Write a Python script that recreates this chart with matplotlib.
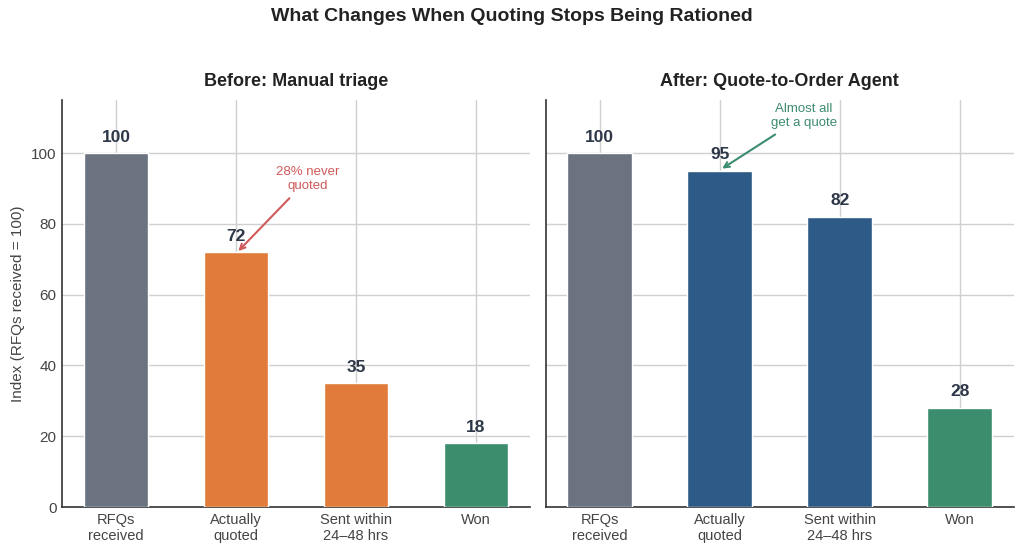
import matplotlib
matplotlib.use('Agg')
import matplotlib.pyplot as plt
import seaborn as sns

# Данные
categories = ['RFQs\nreceived', 'Actually\nquoted', 'Sent within\n24–48 hrs', 'Won']
before_values = [100, 72, 35, 18]
after_values = [100, 95, 82, 28]
before_colors = ['#6b7280', '#e07b39', '#e07b39', '#3c8c6e']
after_colors = ['#6b7280', '#2e5a87', '#2e5a87', '#3c8c6e']

sns.set_theme(style='whitegrid')
plt.rcParams['font.family'] = ['Liberation Sans', 'DejaVu Sans']

fig, axes = plt.subplots(1, 2, figsize=(10.24, 5.52), dpi=100, sharey=True)
fig.subplots_adjust(left=0.0605, right=0.990, top=0.819, bottom=0.0815, wspace=0.034)

panels = [
    (axes[0], before_values, before_colors, 'Before: Manual triage'),
    (axes[1], after_values, after_colors, 'After: Quote-to-Order Agent'),
]

for ax, values, colors, title in panels:
    x = list(range(len(categories)))
    ax.bar(x, values, width=0.54, color=colors, zorder=3)
    for xi, v in zip(x, values):
        ax.text(xi, v + 2.4, str(v), ha='center', va='bottom', fontsize=12.5,
                fontweight='bold', color='#2d3748', zorder=4)
    ax.set_xticks(x)
    ax.set_xticklabels(categories, fontsize=10.5, color='#444444')
    ax.set_xlim(-0.45, 3.45)
    ax.set_ylim(0, 115)
    ax.set_title(title, fontsize=13, fontweight='bold', color='#222222', pad=10)
    ax.grid(True, color='#d0d0d0', linewidth=1.0, zorder=0)
    for side in ['top', 'right']:
        ax.spines[side].set_visible(False)
    for side in ['left', 'bottom']:
        ax.spines[side].set_color('#333333')
        ax.spines[side].set_linewidth(1.2)
    ax.tick_params(axis='both', length=0, pad=4)

axes[0].set_yticks([0, 20, 40, 60, 80, 100])
axes[0].tick_params(axis='y', labelsize=11, labelcolor='#444444')
axes[0].set_ylabel('Index (RFQs received = 100)', fontsize=11, color='#444444')

axes[0].annotate('28% never\nquoted', xy=(1.02, 72.3), xytext=(1.6, 89),
                 ha='center', va='bottom', fontsize=9.5, color='#d05a5a',
                 arrowprops=dict(arrowstyle='->', color='#d05a5a', lw=1.5,
                                 shrinkA=3, shrinkB=0), zorder=5)
axes[1].annotate('Almost all\nget a quote', xy=(1.02, 95.6), xytext=(1.7, 106.8),
                 ha='center', va='bottom', fontsize=9.5, color='#3c8c6e',
                 arrowprops=dict(arrowstyle='->', color='#3c8c6e', lw=1.5,
                                 shrinkA=3, shrinkB=0), zorder=5)

fig.suptitle('What Changes When Quoting Stops Being Rationed', fontsize=14,
             fontweight='bold', color='#222222', y=0.985)

fig.savefig('out.png', dpi=100, facecolor='white')
